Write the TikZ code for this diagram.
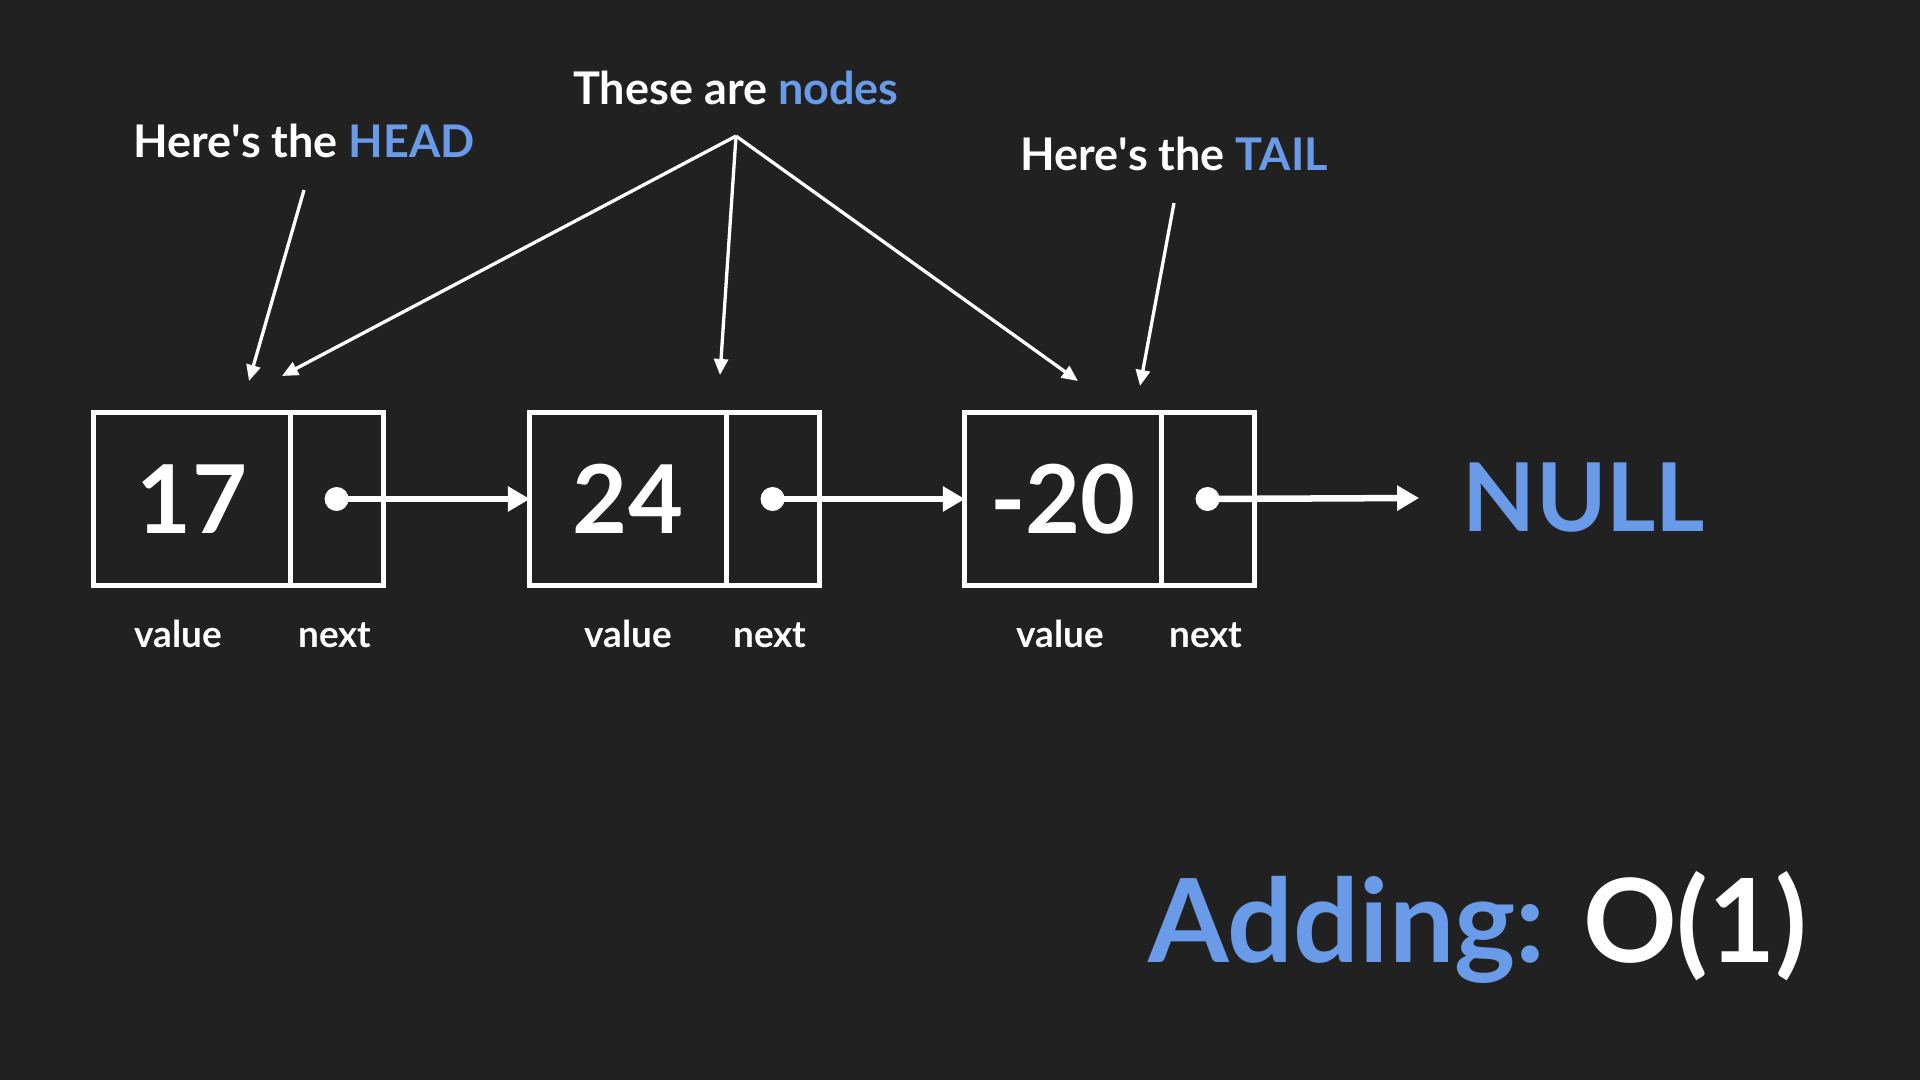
\documentclass[tikz,border=0pt]{standalone}
\usepackage{fontspec}
\setmainfont{Lato}
\usetikzlibrary{arrows.meta,positioning}
\definecolor{bgdark}{HTML}{212121}
\definecolor{lblue}{HTML}{6A9BE8}
\begin{document}
\begin{tikzpicture}[x=.01cm,y=-.01cm,
  cell/.style={draw=white,line width=.05cm,minimum height=1.72cm,inner sep=0pt,outer sep=0pt,text=white,font=\bfseries\fontsize{27}{30}\selectfont},
  valcell/.style={cell,minimum width=1.96cm},
  nextcell/.style={cell,minimum width=.93cm},
  ptr/.style={white,line width=.065cm,-{Triangle[length=.22cm,width=.24cm]}},
  note/.style={white,line width=.033cm,-{Triangle[length=.16cm,width=.14cm]}},
  lbl/.style={text=white,inner sep=0pt,anchor=base,font=\bfseries\fontsize{10.5}{12}\selectfont},
  say/.style={text=white,inner sep=0pt,anchor=base,font=\bfseries\fontsize{12.8}{15}\selectfont}]
\fill[bgdark] (0,0) rectangle (1920,1080);
% list cells
\node[valcell] (v1) at (192,499) {17};\node[nextcell,right=0pt of v1] (n1) {};
\node[valcell] (v2) at (628,499) {24};\node[nextcell,right=0pt of v2] (n2) {};
\node[valcell] (v3) at (1063,499) {-20};\node[nextcell,right=0pt of v3] (n3) {};
\node[text=lblue,inner sep=0pt,font=\bfseries\fontsize{27}{30}\selectfont] (null) at (1584,498) {NULL};
\fill[white] (n1.center) circle[radius=.12cm] (n2.center) circle[radius=.12cm] (n3.center) circle[radius=.12cm];
\draw[ptr] (n1.center)--(v2.west);\draw[ptr] (n2.center)--(v3.west);\draw[ptr] (n3.center)--([xshift=-.43cm]null.west);
\node[lbl] (val1) at (178,648) {value};\node[lbl] (nxt1) at (335,648) {next};
\node[lbl] (val2) at (628,648) {value};\node[lbl] (nxt2) at (770,648) {next};
\node[lbl] (val3) at (1060,648) {value};\node[lbl] (nxt3) at (1206,648) {next};
% callouts
\node[say] (head) at (304,158) {Here\textquotesingle s the \textcolor{lblue}{HEAD}};
\node[say] (these) at (736,105) {These are \textcolor{lblue}{nodes}};
\node[say] (tail) at (1174,171) {Here\textquotesingle s the \textcolor{lblue}{TAIL}};
\coordinate (fork) at ([yshift=-.3cm]these.south);
\coordinate (headtip) at (249,381);\coordinate (tailtip) at (1140,386);
\coordinate (tip1) at (282,376);\coordinate (tip2) at (720,375);\coordinate (tip3) at (1078,381);
\draw[note] ([yshift=-.31cm]head.south)--(headtip);\draw[note] ([yshift=-.31cm]tail.south)--(tailtip);
\draw[note] (fork)--(tip1);\draw[note] (fork)--(tip2);\draw[note] (fork)--(tip3);
\node[text=white,inner sep=0pt,anchor=base,font=\bfseries\fontsize{33}{36}\selectfont] (cost) at (1478,963) {\textcolor{lblue}{Adding:} O(1)};
\end{tikzpicture}
\end{document}
